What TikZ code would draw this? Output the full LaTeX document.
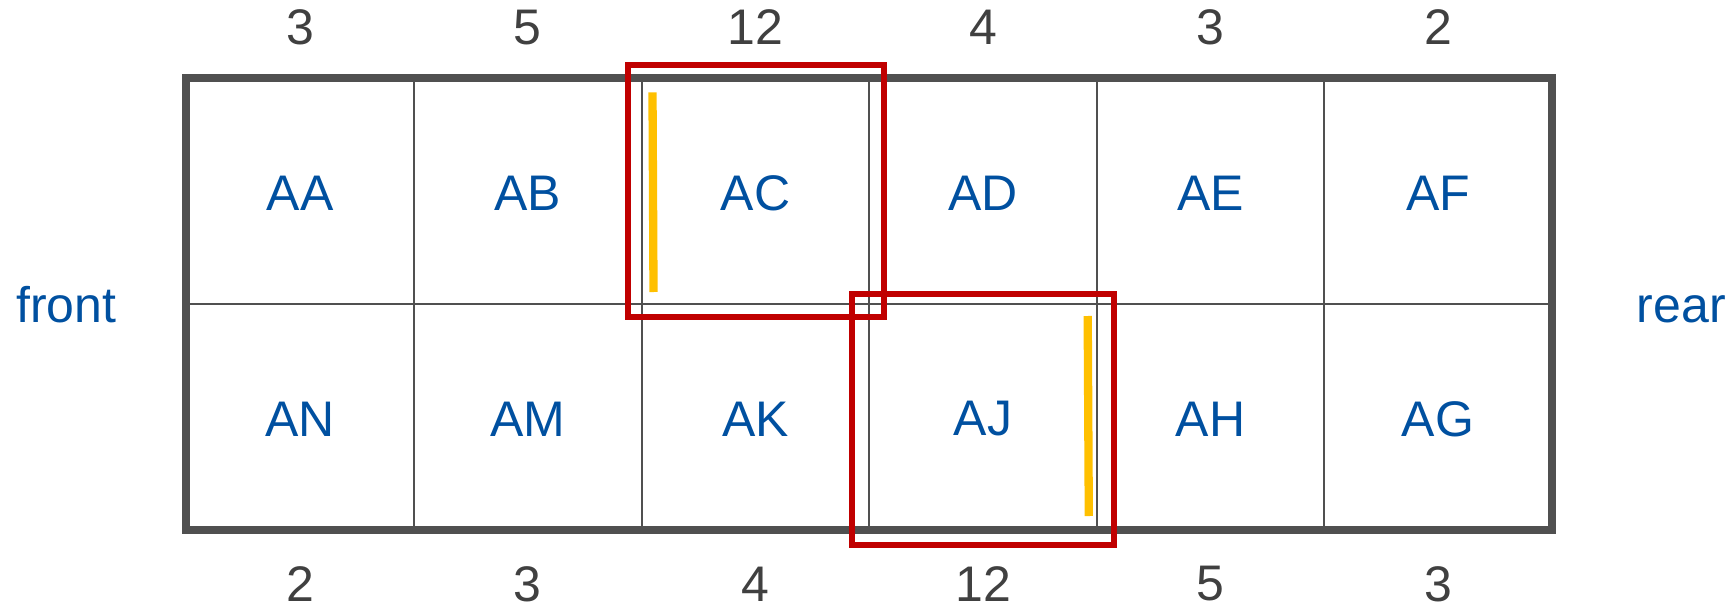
\documentclass[tikz,border=0pt]{standalone}
\usepackage{fontspec}
\setmainfont{Liberation Sans}
\definecolor{gridgray}{HTML}{505050}
\definecolor{numgray}{HTML}{404040}
\definecolor{lblblue}{HTML}{0050A0}
\definecolor{boxred}{HTML}{C00000}
\definecolor{markyellow}{HTML}{FFC000}
\begin{document}
\begin{tikzpicture}[x=1pt,y=-1pt,
  cell/.style={inner sep=0pt,text=lblblue,font=\fontsize{50}{60}\selectfont},
  num/.style={inner sep=0pt,text=numgray,font=\fontsize{50}{60}\selectfont},
  side/.style={inner sep=0pt,text=lblblue,font=\fontsize{50}{60}\selectfont},
  thin grid/.style={draw=gridgray,line width=2pt},
  frame/.style={draw=gridgray,line width=8pt},
  redbox/.style={draw=boxred,line width=6pt},
  yellowmark/.style={draw=markyellow,line width=8.3pt}]
\useasboundingbox (0,0) rectangle (1734,607);
% grid coordinates
\coordinate (tl) at (186,78.5);
\coordinate (br) at (1552,530);
% inner lines
\foreach \x in {414,641.7,869.3,1097,1324.3}
  \draw[thin grid] (\x,78.5) -- (\x,530);
\draw[thin grid] (186,304) -- (1552,304);
\draw[frame] (tl) rectangle (br);
% cell labels
\node[cell] (AA) at (300,193) {AA};
\node[cell] (AB) at (527.8,193) {AB};
\node[cell] (AC) at (755.5,193) {AC};
\node[cell] (AD) at (983,193) {AD};
\node[cell] (AE) at (1210.7,193) {AE};
\node[cell] (AF) at (1438,193) {AF};
\node[cell] (AN) at (300,419) {AN};
\node[cell] (AM) at (527.8,419) {AM};
\node[cell] (AK) at (755.5,419) {AK};
\node[cell] (AJ) at (983,419) {AJ};
\node[cell] (AH) at (1210.7,419) {AH};
\node[cell] (AG) at (1438,419) {AG};
% numbers
\node[num] (t1) at (300,27.5) {3};
\node[num] (t2) at (527.8,27.5) {5};
\node[num] (t3) at (755.5,27.5) {12};
\node[num] (t4) at (983,27.5) {4};
\node[num] (t5) at (1210.7,27.5) {3};
\node[num] (t6) at (1438,27.5) {2};
\node[num] (b1) at (300,584) {2};
\node[num] (b2) at (527.8,584) {3};
\node[num] (b3) at (755.5,584) {4};
\node[num] (b4) at (983,584) {12};
\node[num] (b5) at (1210.7,584) {5};
\node[num] (b6) at (1438,584) {3};
% sides
\node[side,anchor=base west] (front) at (16,322) {front};
\node[side,anchor=base east] (rear) at (1726,322) {rear};
% red boxes
\draw[redbox] (628,65.5) rectangle (884,317.3);
\draw[redbox] (852,294) rectangle (1114,545.3);
% yellow marks
\coordinate (y1a) at (652.5,92.3);
\coordinate (y1b) at (653.5,292);
\coordinate (y2a) at (1087.7,316);
\coordinate (y2b) at (1088.8,516);
\draw[yellowmark] (y1a) -- (y1b);
\draw[yellowmark] (y2a) -- (y2b);
\end{tikzpicture}
\end{document}
